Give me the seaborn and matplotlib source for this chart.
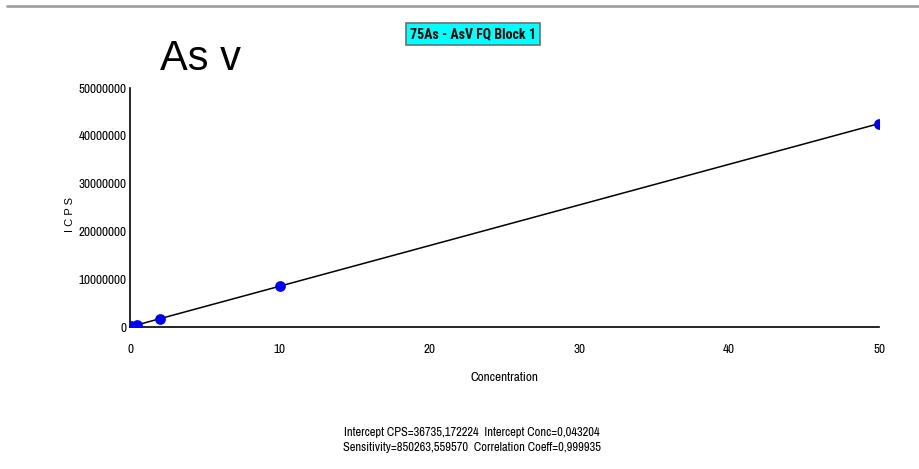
import matplotlib
matplotlib.use("Agg")
import matplotlib.pyplot as plt
from matplotlib import font_manager
from matplotlib.lines import Line2D
from matplotlib.ticker import MultipleLocator, FuncFormatter
import seaborn as sns
import pandas as pd

# ---- data ----
concentration = [0, 0.1, 0.5, 2, 10, 50]
icps = [30000, 120000, 460000, 1740000, 8540000, 42550000]
intercept_cps = 36735.172224
sensitivity = 850263.559570
fit_x = [0, 50]
fit_y = [intercept_cps + sensitivity * v for v in fit_x]
x_ticks = [0, 10, 20, 30, 40, 50]
y_ticks = [0, 10000000, 20000000, 30000000, 40000000, 50000000]
title_text = "75As - AsV FQ Block 1"
big_label = "As v"
footer_lines = ["Intercept CPS=36735,172224  Intercept Conc=0,043204",
                "Sensitivity=850263,559570  Correlation Coeff=0,999935"]

sns.set_theme(style="white")
names = {f.name for f in font_manager.fontManager.ttflist}
prefs = ["Arial Narrow", "Liberation Sans Narrow", "Archivo Narrow", "PT Sans Narrow",
         "Roboto Condensed", "Pragati Narrow"]
narrow = next((p for p in prefs if p in names), "Liberation Sans")
bold_narrow = "Roboto Condensed" if "Roboto Condensed" in names else narrow
plt.rcParams["font.family"] = [narrow, "DejaVu Sans"]

df = pd.DataFrame({"Concentration": concentration, "ICPS": icps})
fit = pd.DataFrame({"x": fit_x, "y": fit_y})

fig = plt.figure(figsize=(9.19, 4.69), dpi=100)
W, H = 919, 469
ax = fig.add_axes([130 / W, 1 - 327 / H, (879 - 130) / W, (327 - 88) / H])

sns.lineplot(data=fit, x="x", y="y", ax=ax, color="black", linewidth=1.1, zorder=2)
sns.scatterplot(data=df, x="Concentration", y="ICPS", ax=ax, color="#0000ff",
                marker="o", s=60, edgecolor="#0000ff", linewidth=0, zorder=3)

ax.set_xlim(0, 50)
ax.set_ylim(0, 50000000)
ax.set_xticks(x_ticks)
ax.set_yticks(y_ticks)
ax.xaxis.set_minor_locator(MultipleLocator(5))
ax.yaxis.set_minor_locator(MultipleLocator(5000000))
ax.yaxis.set_major_formatter(FuncFormatter(lambda v, p: f"{int(v)}"))
ax.xaxis.set_major_formatter(FuncFormatter(lambda v, p: f"{int(v)}"))
for s in ["top", "right"]:
    ax.spines[s].set_visible(False)
for s in ["left", "bottom"]:
    ax.spines[s].set_color("black")
    ax.spines[s].set_linewidth(1.2)
ax.tick_params(axis="both", which="major", direction="inout", length=5, width=1,
               labelsize=9.5, colors="black", pad=3)
ax.tick_params(axis="both", which="minor", direction="inout", length=4, width=1, colors="black")
ax.tick_params(axis="x", which="major", pad=10)
ax.tick_params(axis="y", which="major", pad=0)
ax.set_xlabel("Concentration", fontsize=9.5, color="black", labelpad=12)
ax.set_ylabel("")
fig.text(70 / W, 1 - 214 / H, "I C P S", rotation=90, ha="center", va="center",
         fontsize=8, family=["Liberation Sans", "DejaVu Sans"], color="black")
ax.grid(False)
ax.set_facecolor("white")

fig.add_artist(Line2D([7 / W, 1.0], [1 - 6 / H, 1 - 6 / H], color="#a0a0a0", linewidth=2))

fig.text(473 / W, 1 - 34 / H, title_text, ha="center", va="center", fontsize=10,
         fontweight="bold", family=[bold_narrow, "DejaVu Sans"], color="black",
         bbox=dict(boxstyle="square,pad=0.3", facecolor="#00ffff", edgecolor="#707070", linewidth=1.2))

fig.text(160 / W, 1 - 70 / H, big_label, ha="left", va="baseline", fontsize=30,
         family=["Liberation Sans", "DejaVu Sans"], color="black")

fig.text(472 / W, 1 - 432 / H, footer_lines[0], ha="center", va="center", fontsize=9, color="black")
fig.text(472 / W, 1 - 447 / H, footer_lines[1], ha="center", va="center", fontsize=9, color="black")

fig.savefig("out.png", dpi=100, facecolor="white")
